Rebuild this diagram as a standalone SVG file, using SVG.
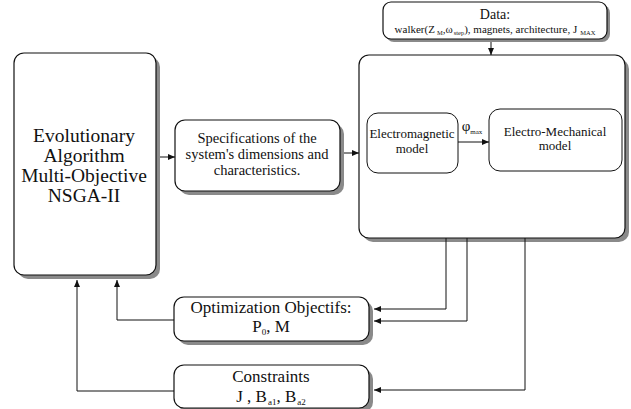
<svg xmlns="http://www.w3.org/2000/svg" width="631" height="409" viewBox="0 0 631 409">
<style>
.box{fill:#fff;stroke:#111;stroke-width:1.2}
.sh{fill:#8a8a8a}
.in{fill:#fff;stroke:#111;stroke-width:1}
text{font-family:"Liberation Serif","Times New Roman",serif;fill:#111;text-anchor:middle}
.c{fill:none;stroke:#111;stroke-width:1}
</style>
<defs>
<marker id="ah" markerWidth="8" markerHeight="6" refX="7" refY="3" orient="auto" markerUnits="userSpaceOnUse">
<path d="M0,0 L7,3 L0,6 Z" fill="#111"/>
</marker>
</defs>
<g id="data">
<rect class="sh" x="386" y="5" width="224" height="37" rx="8"/>
<rect class="box" x="383" y="2" width="224" height="37" rx="8"/>
<text x="495" y="19" font-size="14">Data:</text>
<text x="495" y="33" font-size="11">walker(Z<tspan font-size="6.5" dx="2" dy="2">M</tspan><tspan dy="-2">,ω</tspan><tspan font-size="6.5" dx="1" dy="2">step</tspan><tspan dy="-2">), magnets, architecture, J</tspan><tspan font-size="6.5" dx="3" dy="2">MAX</tspan></text>
</g>
<g id="ea">
<rect class="sh" x="18" y="57" width="142" height="222" rx="10"/>
<rect class="box" x="14" y="53" width="142" height="222" rx="10"/>
<text x="84" y="142" font-size="19.5">Evolutionary</text>
<text x="84" y="162" font-size="19.5">Algorithm</text>
<text x="84" y="182" font-size="19.5">Multi-Objective</text>
<text x="84" y="202" font-size="19.5">NSGA-II</text>
</g>
<g id="specs">
<rect class="sh" x="179" y="124" width="165" height="71" rx="10"/>
<rect class="box" x="175" y="120" width="165" height="71" rx="10"/>
<text x="257" y="143" font-size="14.5">Specifications of the</text>
<text x="257" y="159" font-size="14.5">system's dimensions and</text>
<text x="257" y="175" font-size="14.5">characteristics.</text>
</g>
<g id="model">
<rect class="sh" x="363" y="59" width="266" height="183" rx="10"/>
<rect class="box" x="359" y="55" width="266" height="183" rx="10"/>
</g>
<g id="em">
<rect class="in" x="367" y="113" width="91" height="60" rx="11"/>
<text x="412" y="138" font-size="13">Electromagnetic</text>
<text x="412" y="153" font-size="13">model</text>
</g>
<g id="emech">
<rect class="in" x="489" y="109" width="133" height="62" rx="11"/>
<text x="555" y="136" font-size="13">Electro-Mechanical</text>
<text x="555" y="150" font-size="13">model</text>
</g>
<g id="opt">
<rect class="sh" x="178" y="301" width="195" height="44" rx="10"/>
<rect class="box" x="174" y="297" width="195" height="44" rx="10"/>
<text x="271" y="313" font-size="17">Optimization Objectifs:</text>
<text x="271" y="332" font-size="17">P<tspan font-size="9" dy="3">0</tspan><tspan dy="-3">, M</tspan></text>
</g>
<g id="constr">
<rect class="sh" x="178" y="369" width="195" height="43" rx="10"/>
<rect class="box" x="174" y="365" width="195" height="43" rx="10"/>
<text x="271" y="382" font-size="17">Constraints</text>
<text x="271" y="402" font-size="17">J , B<tspan font-size="9" dx="1" dy="3">a1</tspan><tspan dy="-3">, B</tspan><tspan font-size="9" dx="1" dy="3">a2</tspan></text>
</g>
<g id="connectors">
<path class="c" d="M491,42 V55" marker-end="url(#ah)"/>
<path class="c" d="M160,157 H175" marker-end="url(#ah)"/>
<path class="c" d="M344,153 H359" marker-end="url(#ah)"/>
<path class="c" d="M458,142 H489" marker-end="url(#ah)"/>
<path class="c" d="M446,238 V309 H374" marker-end="url(#ah)"/>
<path class="c" d="M467,238 V321 H374" marker-end="url(#ah)"/>
<path class="c" d="M525,238 V390 H374" marker-end="url(#ah)"/>
<path class="c" d="M174,320 H117 V280" marker-end="url(#ah)"/>
<path class="c" d="M174,391 H77 V280" marker-end="url(#ah)"/>
<text x="472" y="131" font-size="15" font-family="'DejaVu Serif',serif">φ<tspan font-size="7" font-family="'Liberation Serif',serif" dx="0" dy="3">max</tspan></text>
</g>
</svg>
